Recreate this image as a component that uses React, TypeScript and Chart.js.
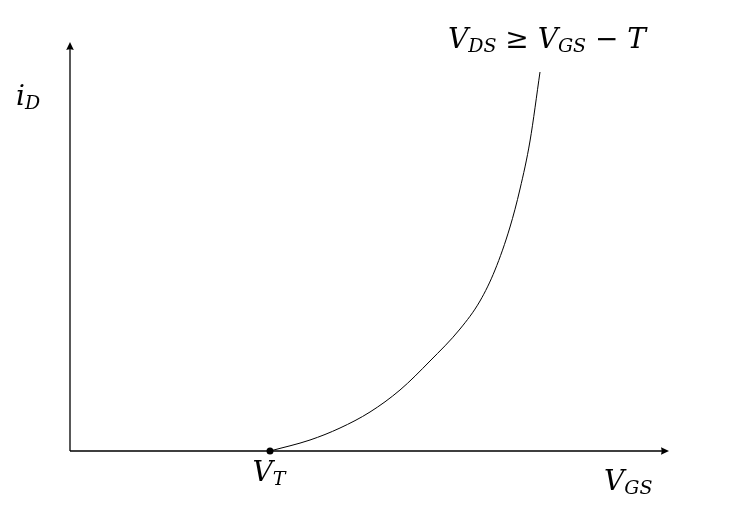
import React, { useEffect, useRef } from "react";
import { Chart, registerables } from "chart.js";

Chart.register(...registerables);

// Curve (x in V_GS units, y in i_D units)
const curveX = [2.0, 2.4, 2.7, 3.0, 3.3, 3.6, 3.9, 4.1, 4.25, 4.4, 4.5, 4.6, 4.7];
const curveY = [0, 0.11, 0.23, 0.39, 0.61, 0.9, 1.22, 1.5, 1.81, 2.24, 2.62, 3.1, 3.79];
const thresholdX = 2.0;
const xAxisMax = 5.99;
const yAxisMax = 4.09;

const FAM = "'DejaVu Serif', 'Liberation Serif', serif";
const MAIN = `italic 28px ${FAM}`;
const SUB = `italic 19px ${FAM}`;
const UP = `28px ${FAM}`;

type Seg = { t: string; f: string; dy?: number };

function drawRich(ctx: CanvasRenderingContext2D, segs: Seg[], x: number, y: number, align: "left" | "center") {
  let w = 0;
  for (const s of segs) {
    ctx.font = s.f;
    w += ctx.measureText(s.t).width;
  }
  let cx = align === "center" ? x - w / 2 : x;
  ctx.textBaseline = "alphabetic";
  ctx.textAlign = "left";
  for (const s of segs) {
    ctx.font = s.f;
    ctx.fillText(s.t, cx, y + (s.dy || 0));
    cx += ctx.measureText(s.t).width;
  }
}

const axesPlugin = {
  id: "axesPlugin",
  beforeDatasetsDraw(chart: any) {
    const ctx = chart.ctx as CanvasRenderingContext2D;
    const xs = chart.scales.x;
    const ys = chart.scales.y;
    const x0 = xs.getPixelForValue(0);
    const y0 = ys.getPixelForValue(0);
    const x1 = xs.getPixelForValue(xAxisMax);
    const y1 = ys.getPixelForValue(yAxisMax);
    ctx.save();
    ctx.strokeStyle = "#000";
    ctx.fillStyle = "#000";
    ctx.lineWidth = 1.3;
    ctx.beginPath();
    ctx.moveTo(x0, y0);
    ctx.lineTo(x1 - 6, y0);
    ctx.moveTo(x0, y0);
    ctx.lineTo(x0, y1 + 6);
    ctx.stroke();
    ctx.beginPath();
    ctx.moveTo(x1, y0);
    ctx.lineTo(x1 - 8, y0 - 3.8);
    ctx.quadraticCurveTo(x1 - 6.5, y0, x1 - 8, y0 + 3.8);
    ctx.closePath();
    ctx.fill();
    ctx.beginPath();
    ctx.moveTo(x0, y1);
    ctx.lineTo(x0 - 3.8, y1 + 8);
    ctx.quadraticCurveTo(x0, y1 + 6.5, x0 + 3.8, y1 + 8);
    ctx.closePath();
    ctx.fill();
    ctx.restore();
  },
  afterDraw(chart: any) {
    const ctx = chart.ctx as CanvasRenderingContext2D;
    const xs = chart.scales.x;
    const ys = chart.scales.y;
    const x0 = xs.getPixelForValue(0);
    const y0 = ys.getPixelForValue(0);
    ctx.save();
    ctx.fillStyle = "#000";
    drawRich(ctx, [{ t: "V", f: MAIN }, { t: "T", f: SUB, dy: 4 }], xs.getPixelForValue(thresholdX) - 1, y0 + 30, "center");
    drawRich(ctx, [{ t: "V", f: MAIN }, { t: "GS", f: SUB, dy: 4 }], xs.getPixelForValue(5.34), y0 + 39, "left");
    drawRich(ctx, [{ t: "i", f: MAIN }, { t: "D", f: SUB, dy: 4 }], x0 - 54, ys.getPixelForValue(3.46), "left");
    const tx = xs.getPixelForValue(curveX[curveX.length - 1]);
    drawRich(
      ctx,
      [
        { t: "V", f: MAIN },
        { t: "DS", f: SUB, dy: 4 },
        { t: " \u2265 ", f: UP },
        { t: "V", f: MAIN },
        { t: "GS", f: SUB, dy: 4 },
        { t: " \u2212 ", f: UP },
        { t: "T", f: MAIN },
      ],
      tx + 7,
      ys.getPixelForValue(4.03),
      "center"
    );
    ctx.restore();
  },
};

export default function App() {
  const ref = useRef<HTMLCanvasElement | null>(null);
  useEffect(() => {
    if (!ref.current) return;
    const data = curveX.map((x, i) => ({ x, y: curveY[i] }));
    const chart = new Chart(ref.current, {
      type: "scatter",
      data: {
        datasets: [
          {
            data,
            showLine: true,
            borderColor: "#000",
            borderWidth: 1,
            cubicInterpolationMode: "monotone",
            pointRadius: data.map((_, i) => (i === 0 ? 3.5 : 0)),
            pointBackgroundColor: "#000",
            pointBorderWidth: 0,
            clip: false,
          } as any,
        ],
      },
      options: {
        animation: false,
        responsive: false,
        events: [],
        layout: { padding: { left: 70, right: 61, top: 42, bottom: 72 } },
        plugins: { legend: { display: false }, tooltip: { enabled: false } },
        scales: {
          x: { type: "linear", min: 0, max: xAxisMax, display: false },
          y: { type: "linear", min: 0, max: yAxisMax, display: false },
        },
      },
      plugins: [axesPlugin],
    });
    return () => chart.destroy();
  }, []);
  return (
    <div style={{ position: "absolute", left: 0, top: 0, width: 730, height: 523, background: "#fff" }}>
      <canvas ref={ref} width={730} height={523} style={{ width: 730, height: 523 }} />
    </div>
  );
}
